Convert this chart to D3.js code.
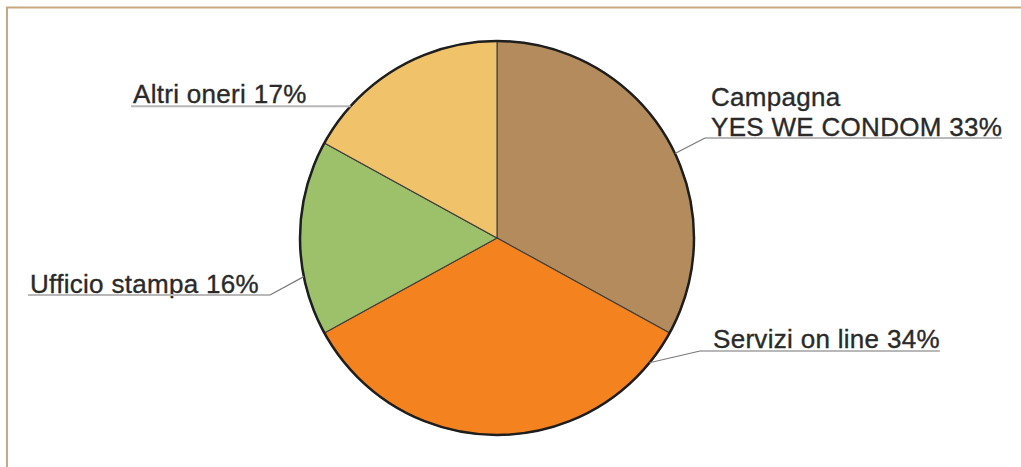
<!DOCTYPE html>
<html>
<head>
<meta charset="utf-8">
<script src="https://cdn.jsdelivr.net/npm/d3@7"></script>
<style>
  html, body { margin: 0; padding: 0; background: #fff; }
  svg { display: block; }
</style>
</head>
<body>
<svg id="chart" width="1021" height="467"></svg>
<script>
// Budget breakdown (percent of total)
const categories = [["Campagna", "YES WE CONDOM"], ["Servizi on line"], ["Ufficio stampa"], ["Altri oneri"]];
const shares = [33, 34, 16, 17];

// Styling
const sliceColors = ["#b48b5c", "#f4821f", "#9dc16a", "#f0c36b"];

// Label placement: pie anchor angle (deg), elbow point, text start, first baseline
const labelLayout = [
  { angle: 64.6,  elbow: [705, 138], textX: 711, baseline: 106, lineGap: 30 },
  { angle: 129.3, elbow: [700, 351], textX: 713, baseline: 348, lineGap: 30 },
  { angle: 258.7, elbow: [270, 295], textX: 30,  baseline: 293, lineGap: 30 },
  { angle: 312.0, elbow: null,       textX: 133, baseline: 103, lineGap: 30 }
];

const W = 1021, H = 467;
const cx = 497, cy = 238, R = 197;
const svg = d3.select("#chart");

// frame
svg.append("path")
  .attr("d", `M7,${H} L7,7.5 L${W},7.5`)
  .attr("fill", "none")
  .attr("stroke", "#c9a881")
  .attr("stroke-width", 2);

const pie = d3.pie().sort(null).value(d => d);
const arcs = pie(shares);
const arc = d3.arc().innerRadius(0).outerRadius(R);

const g = svg.append("g").attr("transform", `translate(${cx},${cy})`);

g.selectAll("path.slice")
  .data(arcs)
  .join("path")
  .attr("class", "slice")
  .attr("d", arc)
  .attr("fill", (d, i) => sliceColors[i])
  .attr("stroke", "#3e3e3e")
  .attr("stroke-width", 1.1);

g.append("circle")
  .attr("r", R)
  .attr("fill", "none")
  .attr("stroke", "#1e1e1e")
  .attr("stroke-width", 2.5);

// labels with leader lines
const labels = svg.append("g")
  .attr("font-family", "'Liberation Sans', Arial, Helvetica, sans-serif")
  .attr("font-size", 26)
  .attr("fill", "#2a2a2a")
  .attr("stroke", "#2a2a2a")
  .attr("stroke-width", 0.35);

const toPoint = (deg, r) => {
  const a = deg * Math.PI / 180;
  return [cx + r * Math.sin(a), cy - r * Math.cos(a)];
};

categories.forEach((lines, i) => {
  const L = labelLayout[i];
  const anchor = toPoint(L.angle, R);
  const elbow = L.elbow || anchor;
  const textLines = lines.map((s, j) => j === lines.length - 1 ? `${s} ${shares[i]}%` : s);

  let maxEnd = L.textX;
  textLines.forEach((s, j) => {
    const t = labels.append("text")
      .attr("x", L.textX)
      .attr("y", L.baseline + j * L.lineGap)
      .attr("letter-spacing", 0.3)
      .text(s);
    maxEnd = Math.max(maxEnd, L.textX + t.node().getComputedTextLength());
  });

  const x0 = Math.min(elbow[0], L.textX - 2);
  const x1 = Math.max(elbow[0], maxEnd);
  // underline
  svg.append("line")
    .attr("x1", x0).attr("x2", x1)
    .attr("y1", elbow[1]).attr("y2", elbow[1])
    .attr("stroke", "#b8b8b8")
    .attr("stroke-width", 2);
  // leader
  if (L.elbow) {
    svg.append("line")
      .attr("x1", anchor[0]).attr("y1", anchor[1])
      .attr("x2", elbow[0]).attr("y2", elbow[1])
      .attr("stroke", "#7a7a7a")
      .attr("stroke-width", 1.2);
  }
});
</script>
</body>
</html>
